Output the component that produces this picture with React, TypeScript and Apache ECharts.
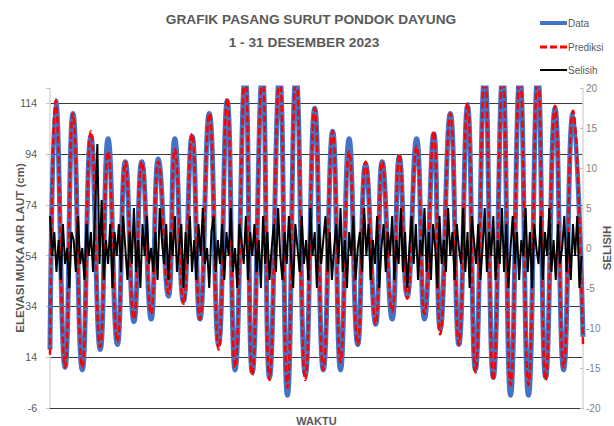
import React, { useEffect, useRef } from "react";
import * as echarts from "echarts";

// Hours (from 1 Dec 00:00) of the turning points
const extremaHours = [0, 8, 21, 32, 45, 57, 70, 81, 94, 105, 117, 128, 141, 151, 165, 174, 186, 198, 209, 222, 235, 247, 258, 272, 282, 296, 306, 320, 331, 343, 356, 369, 381, 394, 405, 417, 429, 440, 454, 463, 477, 487, 498, 511, 522, 535, 544, 558, 570, 582, 593, 606, 618, 631, 642, 655, 667, 680, 691, 704, 716, 729, 743];

// Observed water level (cm) at those turning points
const dataValues = [17, 115, 10, 110, 9, 101, 17, 100, 19, 91,
  28, 91, 29, 92, 38, 100, 36, 101, 29, 110,
  19, 115, 9, 125, 8, 125, 6, 125, -1, 125,
  7, 112, 9, 103, 9, 100, 19, 90, 27, 91,
  29, 93, 38, 100, 29, 102, 25, 110, 19, 113,
  9, 125, 6, 125, -1, 125, -1, 125, 6, 112,
  9, 110, 22];

// Predicted water level (cm)
const predValues = [15, 115, 10, 110, 10, 103, 18, 95, 20, 91,
  29, 91, 31, 91, 39, 96, 35, 102, 29, 110,
  17, 116, 10, 125, 7, 125, 5, 125, 2, 125,
  5, 112, 9, 103, 12, 95, 19, 91, 27, 91,
  32, 94, 37, 97, 31, 103, 23, 110, 19, 114,
  8, 125, 5, 125, 3, 125, 3, 125, 5, 113,
  10, 111, 19];

// Difference (cm), every 3 hours
const selisihStep = 3;
const selisihValues = [
  4, -1, 2, -3, 1, -4, 3, -2, 0, -5, 2, 1, -3, 4, -2, 0,
  -4, 3, -1, 2, -3, 5, 13, -2, 6, -4, 1, -2, 3, -5, 2, -1,
  3, -3, 4, 0, -4, 2, -2, 5, -3, 1, -5, 3, -1, 4, -2, 0,
  -3, 2, -4, 5, 1, -2, 3, -4, 2, -1, 4, -3, 0, 3, -5, 2,
  -2, 4, -3, 1, -4, 3, -1, 5, -2, 0, -5, 2, 4, -3, 1, -2,
  3, -4, 2, -1, 5, -3, 0, -5, 3, 1, -2, 4, -4, 2, -1, 3,
  -3, 1, -5, 4, -2, 2, -4, 0, 3, -3, 5, -1, -4, 2, -2, 4,
  -1, -5, 3, 0, -3, 4, -2, 1, -4, 5, -1, 2, -5, 3, -2, 1,
  4, -3, 2, -4, 0, 3, -2, 5, -3, 1, -5, 2, -1, 4, -4, 0,
  2, -3, 5, -1, 3, -4, 1, -2, 4, -5, 0, 3, -3, 2, -1, 4,
  -4, 1, -2, 5, -3, 2, -5, 0, 4, -2, 3, -4, 1, -1, 5, -3,
  2, -4, 3, 0, -5, 4, -2, 1, -3, 5, -1, 2, -4, 3, 0, -2,
  5, -3, 2, -5, 4, 1, -2, 3, -4, 0, 5, -3, 2, -1, 4, -4,
  1, -2, 5, -3, 3, -5, 0, 4, -2, 2, -4, 1, -1, 5, -3, 2,
  -5, 3, 0, -2, 4, -4, 2, -1, 5, -3, 1, -4, 3, -2, 0, 4,
  -3, 2, -4, 3, -1, 4, -5, -1
];

const leftTicks = [-6, 14, 34, 54, 74, 94, 114];
const rightTicks = [-20, -15, -10, -5, 0, 5, 10, 15, 20];
const titleLines = ["GRAFIK PASANG SURUT PONDOK DAYUNG", "1 - 31 DESEMBER 2023"];
const legendNames = ["Data", "Prediksi", "Selisih"];

const NARROW = "'Liberation Sans Narrow', 'Arial Narrow', 'Liberation Sans', Arial, sans-serif";
const BOLD = "'Liberation Sans', Arial, sans-serif";

export default function App() {
  const ref = useRef<HTMLDivElement>(null);
  useEffect(() => {
    if (!ref.current) return;
    const chart = echarts.init(ref.current, undefined, { renderer: "svg" });
    const dataSeries = extremaHours.map((h, i) => [h, dataValues[i]]);
    const predSeries = extremaHours.map((h, i) => [h, predValues[i]]);
    const selSeries = selisihValues.map((v, i) => [i * selisihStep, v]);
    const gridColors = leftTicks.map(() => "#3a3a3a").concat(["rgba(0,0,0,0)"]);

    const legendStyles = [
      { stroke: "#4472C4", lineWidth: 4 },
      { stroke: "#FF0000", lineWidth: 3, lineDash: [7, 3] },
      { stroke: "#000000", lineWidth: 2 },
    ];
    const legendY = [23, 47, 70];
    const legendGraphics: any[] = [];
    legendNames.forEach((name, i) => {
      legendGraphics.push({
        type: "line",
        shape: { x1: 540, y1: legendY[i], x2: 567, y2: legendY[i] },
        style: legendStyles[i],
      });
      legendGraphics.push({
        type: "text",
        x: 568,
        y: legendY[i],
        style: { text: name, fontFamily: NARROW, fontSize: 10, fill: "#595959", textVerticalAlign: "middle", textAlign: "left" },
      });
    });

    chart.setOption({
      animation: false,
      backgroundColor: "#fff",
      graphic: [
        {
          type: "text",
          x: 311,
          y: 19,
          style: { text: titleLines[0], fontFamily: BOLD, fontWeight: "bold", fontSize: 13.7, fill: "#595959", textAlign: "center", textVerticalAlign: "middle" },
        },
        {
          type: "text",
          x: 304,
          y: 42,
          style: { text: titleLines[1], fontFamily: BOLD, fontWeight: "bold", fontSize: 13.7, fill: "#595959", textAlign: "center", textVerticalAlign: "middle" },
        },
        ...legendGraphics,
      ],
      grid: { left: 50, right: 31, top: 88, bottom: 18, outerBoundsMode: "none", containLabel: false },
      xAxis: {
        type: "value",
        min: 0,
        max: 743,
        name: "WAKTU",
        nameLocation: "middle",
        nameGap: 7,
        nameMoveOverlap: false,
        nameTextStyle: { fontFamily: BOLD, fontWeight: "bold", fontSize: 11, color: "#595959" },
        axisLine: { show: true, onZero: false, lineStyle: { color: "#3a3a3a" } },
        axisTick: { show: false },
        axisLabel: { show: false },
        splitLine: { show: false },
      },
      yAxis: [
        {
          type: "value",
          min: leftTicks[0],
          max: 120,
          interval: 20,
          name: "ELEVASI MUKA AIR LAUT (cm)",
          nameLocation: "middle",
          nameGap: 24,
          nameMoveOverlap: false,
          nameTextStyle: { fontFamily: BOLD, fontWeight: "bold", fontSize: 11.5, color: "#595959" },
          axisLine: { show: true, lineStyle: { color: "#d9d9d9", width: 1.5 } },
          axisTick: { show: true, length: 4, lineStyle: { color: "#bfbfbf" } },
          axisLabel: {
            margin: 13,
            fontFamily: NARROW,
            fontSize: 10.5,
            color: "#595959",
            formatter: (v: number) => (leftTicks.indexOf(v) >= 0 ? String(v) : ""),
          },
          splitLine: { show: true, lineStyle: { color: gridColors, width: 1.2 } },
        },
        {
          type: "value",
          min: rightTicks[0],
          max: rightTicks[rightTicks.length - 1],
          interval: 5,
          position: "right",
          name: "SELISIH",
          nameLocation: "middle",
          nameGap: 18,
          nameRotate: 90,
          nameMoveOverlap: false,
          nameTextStyle: { fontFamily: BOLD, fontWeight: "bold", fontSize: 11.5, color: "#595959" },
          axisLine: { show: true, lineStyle: { color: "#d9d9d9", width: 1.5 } },
          axisTick: { show: true, inside: true, length: 3, lineStyle: { color: "#bfbfbf" } },
          axisLabel: { margin: 3, fontFamily: NARROW, fontSize: 10, color: "#7f7f7f" },
          splitLine: { show: false },
        },
      ],
      series: [
        {
          name: "Data",
          type: "line",
          data: dataSeries,
          smooth: 0.5,
          showSymbol: false,
          symbol: "none",
          lineStyle: { color: "#4472C4", width: 5 },
          itemStyle: { color: "#4472C4" },
          z: 2,
        },
        {
          name: "Prediksi",
          type: "line",
          data: predSeries,
          smooth: 0.5,
          showSymbol: false,
          symbol: "none",
          lineStyle: { color: "#FF0000", width: 2.5, type: [7, 3] },
          itemStyle: { color: "#FF0000" },
          z: 3,
        },
        {
          name: "Selisih",
          type: "line",
          yAxisIndex: 1,
          data: selSeries,
          showSymbol: false,
          symbol: "none",
          lineStyle: { color: "#000", width: 2 },
          itemStyle: { color: "#000" },
          z: 4,
        },
      ],
    });
    return () => chart.dispose();
  }, []);
  return <div ref={ref} style={{ width: 614, height: 426, position: "absolute", left: 0, top: 0 }} />;
}
